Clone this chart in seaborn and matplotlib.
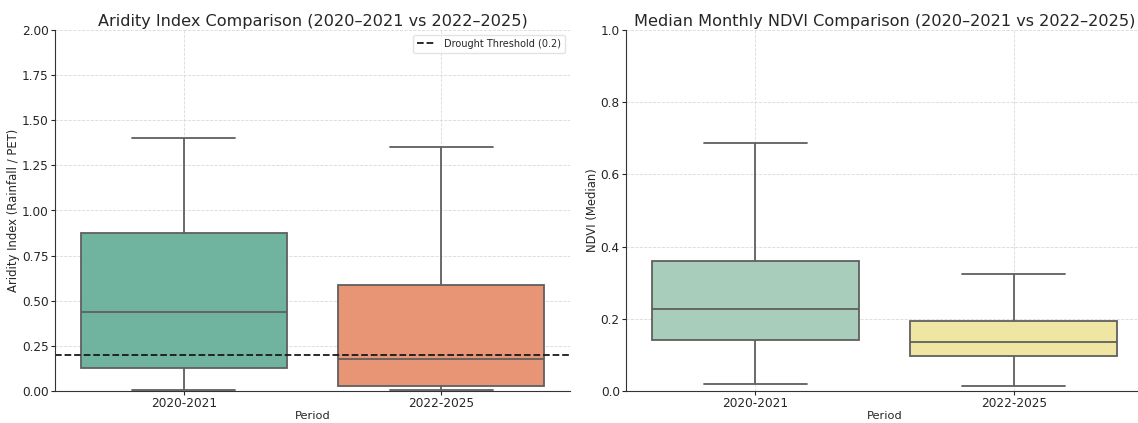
import numpy as np
import pandas as pd
import matplotlib
matplotlib.use("Agg")
import matplotlib.pyplot as plt
import seaborn as sns

# Periods compared
periods = ["2020-2021", "2022-2025"]

# Aridity index (Rainfall / PET): min, Q1, median, Q3, max per period
aridity_2020_2021 = [0.005, 0.13, 0.435, 0.875, 1.40]
aridity_2022_2025 = [0.003, 0.03, 0.177, 0.59, 1.35]

# Median monthly NDVI: min, Q1, median, Q3, max per period
ndvi_2020_2021 = [0.02, 0.14, 0.226, 0.361, 0.687]
ndvi_2022_2025 = [0.015, 0.096, 0.137, 0.193, 0.325]

drought_threshold = 0.2

aridity_colors = ["#70b4a0", "#e89575"]
ndvi_colors = ["#a9cdbb", "#f0e6a4"]

aridity_df = pd.DataFrame({
    "Period": [periods[0]] * len(aridity_2020_2021) + [periods[1]] * len(aridity_2022_2025),
    "Aridity": aridity_2020_2021 + aridity_2022_2025,
})
ndvi_df = pd.DataFrame({
    "Period": [periods[0]] * len(ndvi_2020_2021) + [periods[1]] * len(ndvi_2022_2025),
    "NDVI": ndvi_2020_2021 + ndvi_2022_2025,
})

sns.set_style("whitegrid", {
    "grid.color": "#d9d9d9",
    "grid.linestyle": "--",
    "axes.edgecolor": "#333333",
    "xtick.bottom": True,
    "ytick.left": True,
})
plt.rcParams["font.family"] = ["DejaVu Sans"]
plt.rcParams["grid.linewidth"] = 0.6
plt.rcParams["text.color"] = "#262626"
plt.rcParams["axes.labelcolor"] = "#262626"
plt.rcParams["xtick.color"] = "#262626"
plt.rcParams["ytick.color"] = "#262626"

fig = plt.figure(figsize=(11.38, 4.23), dpi=100)
ax1 = fig.add_axes([55 / 1138, 32 / 423, 515 / 1138, 361 / 423])
ax2 = fig.add_axes([626 / 1138, 32 / 423, 517 / 1138, 361 / 423])

box_kw = dict(whis=(0, 100), width=0.8, saturation=1, linewidth=1.3,
              linecolor="#5f5f5f", showfliers=False)

sns.boxplot(data=aridity_df, x="Period", y="Aridity", hue="Period",
            palette=aridity_colors, legend=False, ax=ax1, **box_kw)
ax1.axhline(drought_threshold, color="#1a1a1a", linestyle="--", linewidth=1.3,
            label="Drought Threshold (0.2)")
ax1.set_ylim(0, 2.0)
ax1.set_xlim(-0.5, 1.5)
ax1.set_yticks(np.arange(0, 2.01, 0.25))
ax1.set_yticklabels([f"{v:.2f}" for v in np.arange(0, 2.01, 0.25)])
ax1.set_title("Aridity Index Comparison (2020\u20132021 vs 2022\u20132025)", fontsize=11.6, pad=3)
ax1.set_xlabel("Period", fontsize=8.2, labelpad=0.5)
ax1.set_ylabel("Aridity Index (Rainfall / PET)", fontsize=8.4, labelpad=1)
ax1.legend(loc="upper right", fontsize=7, frameon=True, fancybox=True,
           framealpha=0.8, edgecolor="#dddddd")

sns.boxplot(data=ndvi_df, x="Period", y="NDVI", hue="Period",
            palette=ndvi_colors, legend=False, ax=ax2, **box_kw)
ax2.set_ylim(0, 1.0)
ax2.set_xlim(-0.5, 1.5)
ax2.set_yticks(np.arange(0, 1.01, 0.2))
ax2.set_yticklabels([f"{v:.1f}" for v in np.arange(0, 1.01, 0.2)])
ax2.set_title("Median Monthly NDVI Comparison (2020\u20132021 vs 2022\u20132025)", fontsize=11.6, pad=3)
ax2.set_xlabel("Period", fontsize=8.2, labelpad=0.5)
ax2.set_ylabel("NDVI (Median)", fontsize=8.4, labelpad=1)

for ax in (ax1, ax2):
    sns.despine(ax=ax)
    ax.tick_params(axis="both", labelsize=8.7, length=3, width=0.8, pad=1.5)
    ax.grid(True, axis="both")
    ax.set_axisbelow(True)

fig.savefig("out.png", dpi=100)
